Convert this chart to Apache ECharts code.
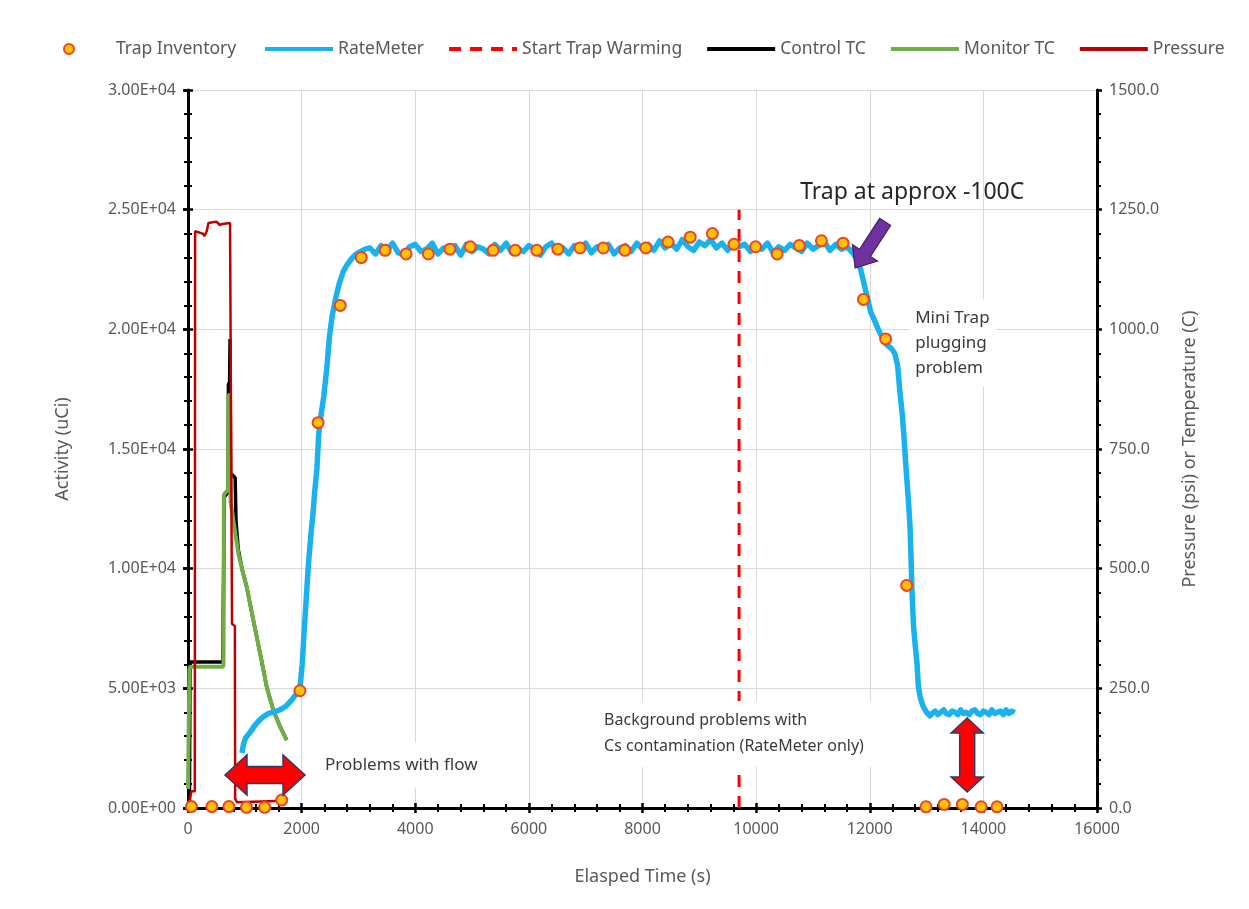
<!DOCTYPE html>
<html>
<head>
<meta charset="utf-8">
<script src="https://cdn.jsdelivr.net/npm/echarts@6/dist/echarts.min.js"></script>
<style>
  html, body { margin: 0; padding: 0; background: #fff; }
  #chart { width: 1249px; height: 909px; }
</style>
</head>
<body>
<div id="chart"></div>
<script>
// Trap inventory samples: elapsed time (s) and activity (uCi)
const trapTime = [60, 420, 720, 1030, 1350, 1650, 1970, 2290, 2680, 3050, 3470, 3840, 4230, 4610,
  4970, 5370, 5760, 6140, 6510, 6900, 7310, 7690, 8060, 8450, 8840, 9230, 9610, 9990, 10370,
  10760, 11150, 11530, 11890, 12280, 12650, 12990, 13310, 13630, 13960, 14240];
const trapActivity = [60, 60, 60, 30, 30, 330, 4900, 16100, 21000, 23000, 23300, 23150, 23150, 23350,
  23450, 23300, 23300, 23300, 23350, 23400, 23400, 23300, 23400, 23650, 23850, 24000, 23550, 23450, 23150,
  23500, 23700, 23600, 21250, 19600, 9300, 50, 150, 150, 50, 50];

// RateMeter readings [time s, activity uCi]
const rateMeter = [
  [950, 2300], [980, 2700], [1020, 2950], [1090, 3150], [1160, 3400], [1250, 3650], [1330, 3820],
  [1420, 3950], [1520, 4020], [1620, 4100], [1720, 4250], [1820, 4500], [1900, 4750], [1970, 5000],
  [2010, 6000], [2040, 7200], [2080, 8700], [2120, 10200], [2170, 11600], [2200, 12300], [2230, 13200],
  [2270, 14200], [2300, 15600], [2340, 16400], [2390, 17200], [2440, 18300], [2490, 19700], [2540, 20600],
  [2600, 21300], [2660, 21900], [2730, 22400], [2800, 22700], [2880, 22950], [2960, 23150], [3040, 23250],
  [3120, 23350], [3200, 23400], [3300, 23150], [3400, 23500], [3500, 23300], [3600, 23600], [3700, 23200],
  [3800, 23100], [3900, 23450], [4000, 23550], [4100, 23250], [4200, 23350], [4300, 23600], [4400, 23150],
  [4500, 23400], [4600, 23300], [4700, 23500], [4800, 23100], [4900, 23550], [5000, 23250], [5100, 23450],
  [5200, 23350], [5300, 23150], [5400, 23550], [5500, 23300], [5600, 23600], [5700, 23200], [5800, 23400],
  [5900, 23250], [6000, 23500], [6100, 23350], [6200, 23100], [6300, 23450], [6400, 23600], [6500, 23250],
  [6600, 23400], [6700, 23150], [6800, 23500], [6900, 23350], [7000, 23600], [7100, 23200], [7200, 23450],
  [7300, 23300], [7400, 23550], [7500, 23150], [7600, 23400], [7700, 23500], [7800, 23250], [7900, 23600],
  [8000, 23350], [8100, 23550], [8200, 23300], [8300, 23700], [8400, 23400], [8500, 23600], [8600, 23350],
  [8700, 23750], [8800, 23450], [8900, 23300], [9000, 23650], [9100, 23500], [9200, 23750], [9300, 23400],
  [9400, 23600], [9500, 23300], [9600, 23700], [9700, 23450], [9800, 23550], [9900, 23250], [10000, 23500],
  [10100, 23350], [10200, 23600], [10300, 23200], [10400, 23450], [10500, 23300], [10600, 23550],
  [10700, 23400], [10800, 23250], [10900, 23600], [11000, 23350], [11100, 23500], [11200, 23650],
  [11300, 23300], [11400, 23550], [11500, 23350], [11600, 23450], [11700, 23200], [11780, 22900],
  [11840, 22500], [11900, 21900], [11960, 21300], [12020, 20700], [12080, 20400], [12150, 20000],
  [12230, 19600], [12300, 19350], [12380, 19200], [12440, 19000], [12490, 18500], [12530, 17400],
  [12570, 16500], [12600, 15600], [12630, 14500], [12660, 13500], [12690, 12500], [12710, 11700],
  [12730, 10200], [12745, 9000], [12770, 7600], [12800, 6800], [12830, 6100], [12855, 5100], [12890, 4600],
  [12940, 4250], [13000, 4000], [13060, 3850], [13100, 3950], [13150, 4050], [13200, 3900], [13250, 4000],
  [13300, 4100], [13350, 3950], [13400, 3900], [13450, 4050], [13500, 4000], [13550, 3900], [13600, 4100],
  [13650, 3950], [13700, 4000], [13750, 3900], [13800, 4050], [13850, 4100], [13900, 3950], [13950, 3900],
  [14000, 4050], [14050, 4000], [14100, 3900], [14150, 4100], [14200, 3950], [14250, 4000], [14300, 4050],
  [14350, 3900], [14400, 4100], [14450, 3950], [14500, 4050], [14550, 3980]
];

// Start of trap warming (s) and its marker height (uCi)
const warmStartTime = 9700;
const warmMarkerTop = [0, 25000];

// Control thermocouple [time s, temperature C]
const controlTC = [
  [25, 0], [35, 305], [615, 305], [622, 430], [640, 650], [705, 660], [712, 885], [732, 890],
  [740, 980], [748, 700], [830, 690], [845, 600], [885, 540], [960, 495], [1033, 462], [1120, 410],
  [1209, 358], [1300, 305], [1385, 253], [1500, 205], [1620, 170], [1737, 142]
];

// Monitor thermocouple [time s, temperature C]
const monitorTC = [
  [0, 40], [25, 290], [40, 295], [615, 295], [625, 300], [632, 655], [705, 665], [712, 860],
  [740, 865], [750, 640], [800, 600], [885, 532], [960, 495], [1033, 462], [1120, 410], [1209, 358],
  [1300, 305], [1385, 253], [1500, 205], [1620, 170], [1737, 142]
];

// System pressure [time s, psi]
const pressure = [
  [0, 0], [60, 35], [120, 35], [125, 1205], [260, 1200], [290, 1195], [330, 1205], [360, 1222],
  [500, 1225], [560, 1218], [600, 1220], [740, 1222], [770, 1218], [775, 385], [825, 380], [830, 20],
  [860, 12], [1700, 15]
];

// Axis tick values
const xTicks = [0, 2000, 4000, 6000, 8000, 10000, 12000, 14000, 16000];
const activityTicks = [0, 5000, 10000, 15000, 20000, 25000, 30000];
const tempTicks = [0, 250, 500, 750, 1000, 1250, 1500];

const FONT = '"Noto Sans"';
const GREY = '#595959';

function sci(v) {
  if (v === 0) return '0.00E+00';
  const e = Math.floor(Math.log10(Math.abs(v)));
  const m = v / Math.pow(10, e);
  return m.toFixed(2) + 'E' + (e < 0 ? '-' : '+') + String(Math.abs(e)).padStart(2, '0');
}

const chart = echarts.init(document.getElementById('chart'), null, { renderer: 'canvas' });

const tickOuter = { show: true, length: 5, lineStyle: { color: '#000', width: 2.5 } };
const tickInner = { show: true, inside: true, length: 5, lineStyle: { color: '#000', width: 2.5 } };
const minorTicks = { show: true, splitNumber: 5, length: 4, lineStyle: { color: '#000', width: 2 } };

function range(ticks) {
  return { min: ticks[0], max: ticks[ticks.length - 1], interval: ticks[1] - ticks[0] };
}

const hiddenMarker = { color: 'transparent', borderColor: 'transparent', opacity: 0 };
const legendText = { color: GREY, fontSize: 17.5, fontFamily: FONT };

const option = {
  animation: false,
  backgroundColor: '#fff',
  textStyle: { fontFamily: FONT },
  legend: [
    {
      top: 35, left: 58,
      icon: 'circle', itemWidth: 10, itemHeight: 10,
      textStyle: Object.assign({ padding: [0, 0, 0, 37] }, legendText),
      data: [{ name: 'Trap Inventory' }]
    },
    {
      top: 35, left: 258,
      itemWidth: 68, itemHeight: 14, itemGap: 23,
      textStyle: legendText,
      data: [
        { name: 'RateMeter', itemStyle: hiddenMarker, lineStyle: { width: 4 } },
        { name: 'Start Trap Warming', itemStyle: hiddenMarker, lineStyle: { width: 4 } },
        { name: 'Control TC', itemStyle: hiddenMarker, lineStyle: { width: 4 } },
        { name: 'Monitor TC', itemStyle: hiddenMarker, lineStyle: { width: 4 } },
        { name: 'Pressure', itemStyle: hiddenMarker, lineStyle: { width: 4 } }
      ]
    }
  ],
  grid: { left: 188, right: 152, top: 90, bottom: 101, containLabel: false },
  xAxis: [
    Object.assign({
      type: 'value', position: 'bottom',
      name: 'Elasped Time (s)', nameLocation: 'middle', nameGap: 60,
      nameTextStyle: { color: GREY, fontSize: 18, fontFamily: FONT },
      axisLine: { show: true, onZero: false, lineStyle: { color: '#000', width: 3 } },
      axisTick: tickOuter, minorTick: minorTicks,
      axisLabel: { color: GREY, fontSize: 16, margin: 13, fontFamily: FONT, formatter: v => String(v) },
      splitLine: { show: true, lineStyle: { color: '#d9d9d9', width: 1 } }
    }, range(xTicks)),
    Object.assign({
      type: 'value', position: 'bottom',
      axisLine: { show: false }, axisTick: tickInner, minorTick: minorTicks,
      axisLabel: { show: false }, splitLine: { show: false }
    }, range(xTicks))
  ],
  yAxis: [
    Object.assign({
      type: 'value', position: 'left',
      name: 'Activity (uCi)', nameLocation: 'middle', nameGap: 116, nameRotate: 90,
      nameTextStyle: { color: GREY, fontSize: 18, fontFamily: FONT },
      axisLine: { show: true, onZero: false, lineStyle: { color: '#000', width: 3 } },
      axisTick: tickOuter, minorTick: minorTicks,
      axisLabel: { color: GREY, fontSize: 16, margin: 12, formatter: sci, fontFamily: FONT },
      splitLine: { show: true, lineStyle: { color: '#d9d9d9', width: 1 } }
    }, range(activityTicks)),
    Object.assign({
      type: 'value', position: 'right',
      name: 'Pressure (psi) or Temperature (C)', nameLocation: 'middle', nameGap: 84, nameRotate: 90,
      nameTextStyle: { color: GREY, fontSize: 18, fontFamily: FONT },
      axisLine: { show: true, onZero: false, lineStyle: { color: '#000', width: 3 } },
      axisTick: tickOuter, minorTick: minorTicks,
      axisLabel: { color: GREY, fontSize: 16, margin: 12, formatter: v => v.toFixed(1), fontFamily: FONT },
      splitLine: { show: false }
    }, range(tempTicks)),
    Object.assign({
      type: 'value', position: 'left',
      axisLine: { show: false }, axisTick: tickInner, minorTick: minorTicks,
      axisLabel: { show: false }, splitLine: { show: false }
    }, range(activityTicks)),
    Object.assign({
      type: 'value', position: 'right',
      axisLine: { show: false }, axisTick: tickInner, minorTick: minorTicks,
      axisLabel: { show: false }, splitLine: { show: false }
    }, range(tempTicks))
  ],
  series: [
    {
      name: 'Control TC', type: 'line', yAxisIndex: 1, data: controlTC,
      showSymbol: false, symbol: 'none', z: 2,
      lineStyle: { color: '#000000', width: 3.5 }, itemStyle: { color: '#000000' }
    },
    {
      name: 'Monitor TC', type: 'line', yAxisIndex: 1, data: monitorTC,
      showSymbol: false, symbol: 'none', z: 3,
      lineStyle: { color: '#70AD47', width: 4 }, itemStyle: { color: '#70AD47' }
    },
    {
      name: 'RateMeter', type: 'line', yAxisIndex: 0, data: rateMeter,
      showSymbol: false, symbol: 'none', z: 4,
      lineStyle: { color: '#1AB2EE', width: 5.5, join: 'round' }, itemStyle: { color: '#1AB2EE' }
    },
    {
      name: 'Pressure', type: 'line', yAxisIndex: 1, data: pressure,
      showSymbol: false, symbol: 'none', z: 5,
      lineStyle: { color: '#C00000', width: 2.5 }, itemStyle: { color: '#C00000' }
    },
    {
      name: 'Start Trap Warming', type: 'line', yAxisIndex: 0,
      data: warmMarkerTop.map(v => [warmStartTime, v]),
      showSymbol: false, symbol: 'none', z: 6,
      lineStyle: { color: '#FF0000', width: 3, type: [12, 9] }, itemStyle: { color: '#FF0000' }
    },
    {
      name: 'Trap Inventory', type: 'scatter', yAxisIndex: 0,
      data: trapTime.map((t, i) => [t, trapActivity[i]]),
      symbol: 'circle', symbolSize: 11, z: 10,
      itemStyle: { color: '#FFC000', borderColor: '#E8452A', borderWidth: 2, opacity: 1 }
    }
  ]
};

chart.setOption(option);

// ---- annotations anchored in data space ----
function px(x, y) { return chart.convertToPixel({ xAxisIndex: 0, yAxisIndex: 0 }, [x, y]); }

function doubleArrowH(x1, x2, cy, hl, hh, sh) {
  return [[x1, cy], [x1 + hl, cy - hh], [x1 + hl, cy - sh], [x2 - hl, cy - sh], [x2 - hl, cy - hh],
    [x2, cy], [x2 - hl, cy + hh], [x2 - hl, cy + sh], [x1 + hl, cy + sh], [x1 + hl, cy + hh]];
}
function doubleArrowV(cx, y1, y2, hl, hh, sh) {
  return doubleArrowH(y1, y2, cx, hl, hh, sh).map(p => [p[1], p[0]]);
}
function blockArrow(tail, tip, sw, hw, hl) {
  const dx = tip[0] - tail[0], dy = tip[1] - tail[1];
  const len = Math.hypot(dx, dy);
  const ux = dx / len, uy = dy / len, nx = -uy, ny = ux;
  const bx = tip[0] - ux * hl, by = tip[1] - uy * hl;
  return [[tail[0] + nx * sw, tail[1] + ny * sw], [bx + nx * sw, by + ny * sw], [bx + nx * hw, by + ny * hw],
    tip, [bx - nx * hw, by - ny * hw], [bx - nx * sw, by - ny * sw], [tail[0] - nx * sw, tail[1] - ny * sw]];
}

const flowL = px(651, 1379), flowR = px(2060, 1379);
const bgTop = px(13715, 3761), bgBot = px(13715, 669);
const purpleTail = px(12271, 24488), purpleTip = px(11743, 22566);
const trapLabel = px(10775, 25700);
const miniLabel = px(12800, 20915);
const bgLabel = px(7324, 4137);
const flowLabel = px(2412, 1797);

const annoText = '#3a3a3a';

chart.setOption({
  graphic: [
    {
      type: 'text', z: 50, x: bgLabel[0] - 8, y: bgLabel[1] - 8,
      style: {
        text: 'Background problems with\nCs contamination (RateMeter only)',
        font: '16px ' + FONT, fill: annoText, lineHeight: 26,
        backgroundColor: '#fff', padding: [6, 8, 8, 8]
      }
    },
    {
      type: 'text', z: 50, x: miniLabel[0] - 6, y: miniLabel[1] - 8,
      style: {
        text: 'Mini Trap\nplugging\nproblem',
        font: '17px ' + FONT, fill: annoText, lineHeight: 25,
        backgroundColor: '#fff', padding: [6, 6, 6, 6]
      }
    },
    {
      type: 'text', z: 50, x: flowLabel[0] - 8, y: flowLabel[1],
      style: {
        text: 'Problems with flow', font: '17px ' + FONT, fill: annoText,
        verticalAlign: 'middle', backgroundColor: '#fff', padding: [14, 8, 14, 8]
      }
    },
    {
      type: 'text', z: 50, x: trapLabel[0], y: trapLabel[1],
      style: { text: 'Trap at approx -100C', font: '23px ' + FONT, fill: '#262626', verticalAlign: 'middle' }
    },
    {
      type: 'polygon', z: 60,
      shape: { points: doubleArrowH(flowL[0], flowR[0], flowL[1], 22, 20, 8.5) },
      style: { fill: '#FF0000', stroke: '#2E3A66', lineWidth: 1.5 }
    },
    {
      type: 'polygon', z: 60,
      shape: { points: doubleArrowV(bgTop[0], bgTop[1], bgBot[1], 15, 16, 7.5) },
      style: { fill: '#FF0000', stroke: '#2E3A66', lineWidth: 1.5 }
    },
    {
      type: 'polygon', z: 60,
      shape: { points: blockArrow(purpleTail, purpleTip, 6.5, 15, 18) },
      style: { fill: '#7030A0', stroke: '#3F2163', lineWidth: 1.2 }
    }
  ]
});
</script>
</body>
</html>
